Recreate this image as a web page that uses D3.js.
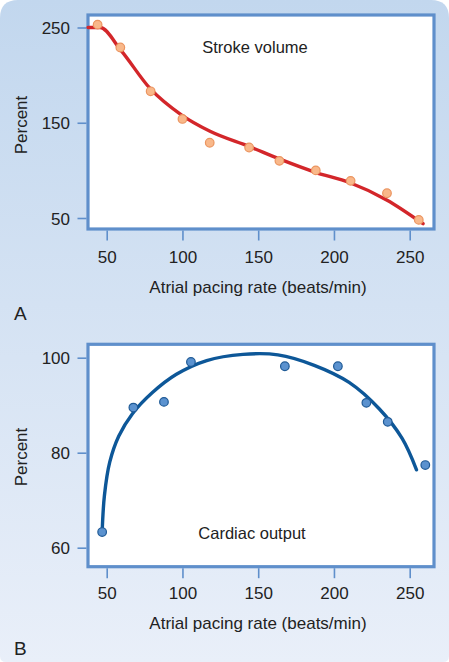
<!DOCTYPE html>
<html><head><meta charset="utf-8">
<script src="https://cdn.jsdelivr.net/npm/d3@7"></script>
<style>body{margin:0;background:#fff}svg{display:block}text{font-family:"Liberation Sans",Arial,sans-serif;fill:#222}</style>
</head><body><svg id="c" width="449" height="662"></svg>
<script>
// ---- data ----
const xTicks = [50, 100, 150, 200, 250];
const svTicks = [50, 150, 250];
const coTicks = [60, 80, 100];
const svRate = [44, 59, 79, 100, 118, 144, 164, 188, 211, 235, 256];
const svPct  = [253, 229, 183, 154, 129, 124, 110, 100, 89, 76, 48];
const svFitRate = [37.7, 45.6, 59.4, 78.6, 99.5, 118.2, 144.1, 163.9, 187.7, 210.6, 234.8, 258.8];
const svFitPct  = [250, 250, 226, 186, 158, 141, 125, 112, 98, 87, 69, 44];
const coRate = [47, 67.6, 87.8, 105.6, 167.6, 202.6, 221.4, 235.5, 260.3];
const coPct  = [63.3, 89.5, 90.7, 99.1, 98.2, 98.2, 90.5, 86.5, 77.4];
const coFitRate = [47, 48.5, 52, 58, 67, 80, 96, 116, 140, 163, 187, 210, 230, 245, 254.5];
const coFitPct  = [63.3, 71, 78, 83.5, 88.2, 92.6, 96.5, 99.4, 100.7, 100.6, 98.4, 94.8, 89.2, 83, 76.4];

const svg = d3.select("#c");
const defs = svg.append("defs");
const g = defs.append("linearGradient").attr("id","bg").attr("x1",0).attr("y1",0).attr("x2",0).attr("y2",1);
g.append("stop").attr("offset","0%").attr("stop-color","#c2d7ee");
g.append("stop").attr("offset","100%").attr("stop-color","#e9eff9");

const W=449,H=662,r=18,rb=6;
svg.append("path").attr("d",`M0,${r} Q0,0 ${r},0 L${W-r},0 Q${W},0 ${W},${r} L${W},${H-rb} Q${W},${H} ${W-rb},${H} L${rb},${H} Q0,${H} 0,${H-rb} Z`).attr("fill","url(#bg)");

const frameColor = "#5f8fcb";
const FS = 17;

function panel(o){
  const x = d3.scaleLinear().domain([50,250]).range([106.7,409.7]);
  const y = d3.scaleLinear().domain(o.ydom).range(o.yrange);
  const L=88,R=434,T=o.top,B=o.bottom;
  const gp = svg.append("g");
  gp.append("rect").attr("x",L).attr("y",T).attr("width",R-L).attr("height",B-T)
    .attr("fill","#fff").attr("stroke",frameColor).attr("stroke-width",3.2);
  const ax = gp.append("g").attr("transform",`translate(0,${B+1.5})`)
    .call(d3.axisBottom(x).tickValues(xTicks).tickSize(10).tickPadding(6).tickSizeOuter(0));
  ax.select(".domain").remove();
  ax.selectAll("line").attr("stroke",frameColor).attr("stroke-width",1.6);
  ax.selectAll("text").attr("font-size",FS).attr("fill","#222").attr("font-family","Liberation Sans, Arial, sans-serif")
    .attr("dy",null).attr("y",o.xLabBase-(B+1.5));
  const ay = gp.append("g").attr("transform",`translate(${L-1.5},0)`)
    .call(d3.axisLeft(y).tickValues(o.yticks).tickSize(9).tickPadding(8).tickSizeOuter(0));
  ay.select(".domain").remove();
  ay.selectAll("line").attr("stroke",frameColor).attr("stroke-width",1.6);
  ay.selectAll("text").attr("font-size",FS).attr("fill","#222").attr("font-family","Liberation Sans, Arial, sans-serif")
    .attr("dy","0.36em").attr("x",70-(L-1.5));
  gp.append("text").attr("x",258).attr("y",o.xTitleBase).attr("text-anchor","middle").attr("font-size",FS).text("Atrial pacing rate (beats/min)");
  gp.append("text").attr("transform",`translate(27,${o.yTitleC}) rotate(-90)`).attr("text-anchor","middle").attr("font-size",FS).text("Percent");
  gp.append("text").attr("x",o.noteX).attr("y",o.noteBase).attr("text-anchor","middle").attr("font-size",16.5).text(o.note);
  gp.append("text").attr("x",14).attr("y",o.letterBase).attr("font-size",19).text(o.letter);
  const line = d3.line().x((d,i)=>x(o.fitX[i])).y((d,i)=>y(o.fitY[i])).curve(o.curve);
  gp.append("path").datum(o.fitX).attr("d",line).attr("fill","none").attr("stroke",o.lineColor).attr("stroke-width",3.4).attr("stroke-linecap","round");
  gp.selectAll("circle.p").data(o.px).join("circle").attr("class","p")
    .attr("cx",d=>x(d)).attr("cy",(d,i)=>y(o.py[i])).attr("r",4.3)
    .attr("fill",o.ptFill).attr("stroke",o.ptStroke).attr("stroke-width",1.2);
}

panel({ydom:[50,250], yrange:[218,27.5], top:15, bottom:229, yticks:svTicks,
  xLabBase:263, xTitleBase:293, yTitleC:125, note:"Stroke volume", noteX:255, noteBase:53, letter:"A", letterBase:320,
  fitX:svFitRate, fitY:svFitPct, px:svRate, py:svPct, lineColor:"#d3262a", ptFill:"#f9b88a", ptStroke:"#eb9560",
  curve:d3.curveMonotoneX});
panel({ydom:[60,100], yrange:[547.7,357.7], top:344.3, bottom:566.7, yticks:coTicks,
  xLabBase:599.3, xTitleBase:629.3, yTitleC:457, note:"Cardiac output", noteX:252, noteBase:539.3, letter:"B", letterBase:655,
  fitX:coFitRate, fitY:coFitPct, px:coRate, py:coPct, lineColor:"#0d5798", ptFill:"#5b92cf", ptStroke:"#1f5a96",
  curve:d3.curveCatmullRom.alpha(0.5)});
</script></body></html>
